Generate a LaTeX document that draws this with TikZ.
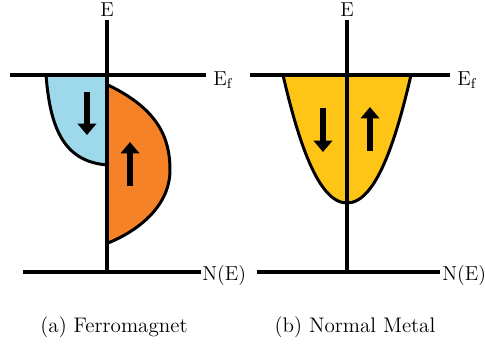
\documentclass[tikz,border=0pt]{standalone}
\usetikzlibrary{arrows.meta}
\definecolor{spinblue}{RGB}{157,217,234}
\definecolor{spinorange}{RGB}{246,130,40}
\definecolor{spinyellow}{RGB}{255,197,22}

\begin{document}
\begin{tikzpicture}[x=0.02cm,y=-0.02cm,
    axis/.style={line width=2.2pt},
    band/.style={draw=black,line width=1.7pt},
    spin/.style={line width=2.9pt,-{Triangle[width=10.5pt,length=6.5pt]}},
    lbl/.style={font=\fontsize{11.5}{14}\selectfont,inner sep=0pt},
    capt/.style={font=\fontsize{12}{15}\selectfont,inner sep=0pt,anchor=base}]
    \useasboundingbox (0,0) rectangle (485,343);

    % (a) ferromagnet: spin-down band
    \fill[spinblue] (46,75) -- (108,75) -- (108,165) .. controls (62,162) and (50,125) .. (46,75) -- cycle;
    \draw[band] (46,75) .. controls (50,125) and (62,162) .. (108,165);
    % spin-up band
    \filldraw[band,fill=spinorange] (108,85) .. controls (160,110) and (170,140) .. (170,170)
        .. controls (170,205) and (140,230) .. (108,243);
    \draw[spin] (87,92) -- (87,135);
    \draw[spin] (130,186) -- (130,142);

    % (b) normal metal
    \filldraw[band,fill=spinyellow] (283,75) .. controls (298,140) and (318,203) .. (347,203)
        .. controls (376,203) and (396,140) .. (411,75);
    \draw[spin] (323,108) -- (323,152);
    \draw[spin] (370,151) -- (370,107);

    % axes (a)
    \coordinate (topA) at (107,20);
    \coordinate (orgA) at (107,272);
    \coordinate (efA0) at (10,75);
    \coordinate (efA1) at (206,75);
    \coordinate (neA0) at (23,272);
    \coordinate (neA1) at (201,272);
    \draw[axis] (topA) -- (orgA);
    \draw[axis] (efA0) -- (efA1);
    \draw[axis] (neA0) -- (neA1);
    \node[lbl,anchor=base] (Ea) at (107,16) {E};
    \node[lbl,anchor=base west] (Efa) at (213,85) {E\textsubscript{f}};
    \node[lbl,anchor=base west] (NEa) at (202,280) {N(E)};

    % axes (b)
    \coordinate (topB) at (347,20);
    \coordinate (orgB) at (347,272);
    \coordinate (efB0) at (250,75);
    \coordinate (efB1) at (450,75);
    \coordinate (neB0) at (257,272);
    \coordinate (neB1) at (440,272);
    \draw[axis] (topB) -- (orgB);
    \draw[axis] (efB0) -- (efB1);
    \draw[axis] (neB0) -- (neB1);
    \node[lbl,anchor=base] (Eb) at (347,16) {E};
    \node[lbl,anchor=base west] (Efb) at (457,85) {E\textsubscript{f}};
    \node[lbl,anchor=base west] (NEb) at (442,280) {N(E)};

    % captions
    \node[capt] (captA) at (114,332) {(a) Ferromagnet};
    \node[capt] (captB) at (355,332) {(b) Normal Metal};
\end{tikzpicture}
\end{document}
